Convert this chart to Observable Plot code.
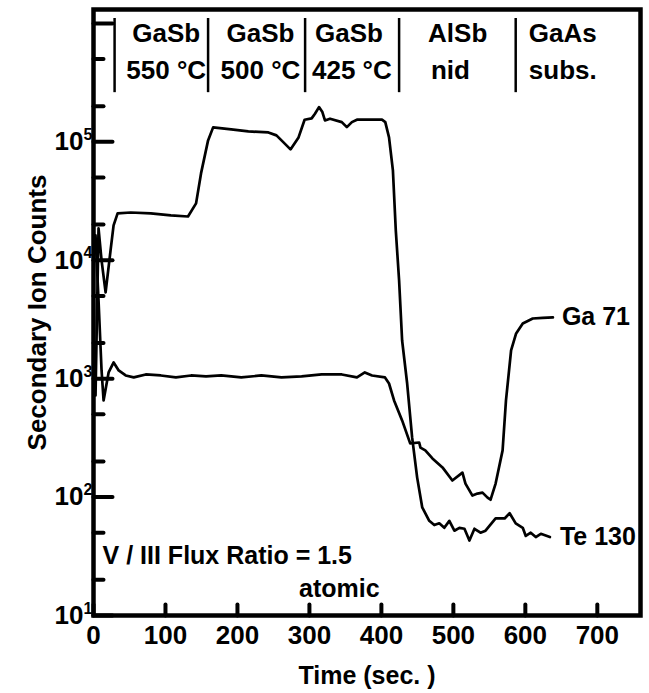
<!DOCTYPE html>
<html>
<head>
<meta charset="utf-8">
<script src="https://cdn.jsdelivr.net/npm/d3@7"></script>
<script src="https://cdn.jsdelivr.net/npm/@observablehq/plot@0.6"></script>
<style>
  html, body { margin: 0; padding: 0; background: #ffffff; }
  #chart { width: 649px; height: 693px; }
</style>
</head>
<body>
<div id="chart"></div>
<script>
// ---- Data ----
const teTime = [2.8, 7.0, 11.2, 16.8, 23.7, 27.9, 33.5, 51.7, 79.6, 107.5, 131.3, 142.5, 149.4, 159.2, 166.2, 191.3, 215.1, 243, 254.2, 261.2, 273.7, 284.9, 293.3, 303.1, 307.7, 313.3, 318, 321.6, 328.6, 345, 352, 359, 366, 400.8, 405.4, 410.6, 416, 420, 424.6, 428.8, 435.8, 442.7, 449.7, 456.7, 466.5, 473.5, 480.4, 487.4, 494.4, 501.4, 508.4, 515.4, 522.3, 529.3, 537.7, 544.7, 558.7, 571.2, 578.2, 586.6, 596.4, 600.6, 607.5, 614.5, 621.5, 634.1];
const teCounts = [721, 18600, 9960, 5350, 12100, 19700, 24900, 25300, 24900, 23900, 23400, 30200, 54100, 102800, 132400, 127300, 122400, 120000, 113300, 102800, 86300, 109000, 153700, 157700, 172700, 196400, 178200, 151600, 156700, 146700, 133100, 146700, 153700, 153700, 146700, 109000, 57300, 17850, 6750, 2100, 910, 319, 146, 82, 63, 58, 60, 55, 63, 52, 55, 54, 43, 54, 50, 52, 66, 66, 73, 60, 55, 47, 50, 46, 49, 46];

const gaTime = [2.8, 7.0, 11.2, 14, 21, 28, 35, 44.7, 55.9, 72.6, 93.6, 114.5, 135.5, 156.4, 177.4, 205.3, 233.2, 261.2, 289.1, 317, 345, 366, 377, 387, 405, 410.6, 417.6, 428.8, 440, 452.5, 454.3, 461, 470.9, 484.9, 498.6, 512.6, 516.8, 526.5, 533.5, 540.5, 547.5, 551.7, 558.7, 568.4, 573.1, 580.2, 587.2, 596.4, 610.3, 624, 638.3];
const gaCounts = [16200, 4575, 1173, 655, 1128, 1370, 1173, 1064, 1024, 1085, 1064, 1024, 1064, 1044, 1064, 1024, 1064, 1024, 1044, 1085, 1085, 1024, 1128, 1064, 1024, 910, 655, 444, 284, 289, 262, 248, 212, 178, 138, 161, 130, 103, 107, 109, 99, 95, 130, 248, 655, 1730, 2410, 2925, 3222, 3255, 3289];

const seriesNames = ["Ga 71", "Te 130"];

const layerBounds = [29.3, 159.2, 294, 424.6, 586.6];
const layerNames = ["GaSb", "GaSb", "GaSb", "AlSb", "GaAs"];
const layerInfo = ["550 °C", "500 °C", "425 °C", "nid", "subs."];
const layerNameX = [101, 232, 355, 506, 652];
const layerInfoX = [101, 232, 359, 496, 652];

const xTicks = [0, 100, 200, 300, 400, 500, 600, 700];
const yMajorTicks = [1e1, 1e2, 1e3, 1e4, 1e5, 1e6];
const yLabelTicks = [1e1, 1e2, 1e3, 1e4, 1e5];
const yMinorTicks = [20, 50, 200, 500, 2000, 5000, 2e4, 5e4, 2e5, 5e5];

const noteLine1 = "V / III Flux Ratio = 1.5";
const noteLine2 = "atomic";
const xLabel = "Time (sec. )";
const yLabel = "Secondary Ion Counts";

// ---- Build tables ----
const te = teTime.map((t, i) => ({t, v: teCounts[i]}));
const ga = gaTime.map((t, i) => ({t, v: gaCounts[i]}));
const teEnd = te[te.length - 1];
const gaEnd = ga[ga.length - 1];
const layers = layerBounds.map(b => ({b}));

const W = 649, H = 693, ML = 93, MR = 9, MT = 9, MB = 78;
const frameW = W - ML - MR, frameH = H - MT - MB;
const X_DOMAIN = [0, 760], Y_DOMAIN = [10, 1.31e6];

// tick lengths given in pixels, converted to scale units
const pxToX = px => X_DOMAIN[0] + (X_DOMAIN[1] - X_DOMAIN[0]) * px / frameW;
const pxToY = px => Y_DOMAIN[0] * Math.pow(Y_DOMAIN[1] / Y_DOMAIN[0], px / frameH);
const xTickTop = pxToY(11);
const yMajorEnd = pxToX(19);
const yMinorEnd = pxToX(10);
// each tick as a two-point segment (k groups the segment)
const tickSegs = [];
xTicks.forEach((x, k) => { tickSegs.push({k: "x" + k, x, y: Y_DOMAIN[0]}, {k: "x" + k, x, y: xTickTop}); });
yMajorTicks.forEach((y, k) => { tickSegs.push({k: "M" + k, x: X_DOMAIN[0], y}, {k: "M" + k, x: yMajorEnd, y}); });
yMinorTicks.forEach((y, k) => { tickSegs.push({k: "m" + k, x: X_DOMAIN[0], y}, {k: "m" + k, x: yMinorEnd, y}); });

const FONT = "'Liberation Sans', Arial, Helvetica, sans-serif";
const textBase = {fontWeight: "bold", fill: "black", fontSize: 26, lineAnchor: "middle"};

const chart = Plot.plot({
  width: W,
  height: H,
  marginLeft: ML,
  marginRight: MR,
  marginTop: MT,
  marginBottom: MB,
  style: {fontFamily: FONT, background: "white", color: "black", overflow: "visible"},
  x: {type: "linear", domain: X_DOMAIN, axis: null},
  y: {type: "log", domain: Y_DOMAIN, axis: null},
  marks: [
    // tick labels
    Plot.text(xTicks, {x: d => d, frameAnchor: "bottom", dy: 20, textAnchor: "middle", text: d => String(d), ...textBase}),
    Plot.text(yLabelTicks, {y: d => d, frameAnchor: "left", dx: -10, textAnchor: "end", text: () => "10", ...textBase}),
    Plot.text(yLabelTicks, {y: d => d, frameAnchor: "left", dx: -10, dy: -7, textAnchor: "start", text: d => String(Math.round(Math.log10(d))), fontWeight: "bold", fill: "black", fontSize: 16, lineAnchor: "middle"}),
    // axis titles
    Plot.text([xLabel], {frameAnchor: "bottom", dy: 60, textAnchor: "middle", text: d => d, ...textBase, fontSize: 25}),
    Plot.text([yLabel], {frameAnchor: "left", dx: -56, rotate: -90, textAnchor: "middle", text: d => d, ...textBase}),
    // layer separators and labels
    Plot.ruleX(layers, {x: "b", y1: 2.6e5, y2: 1.1e6, stroke: "black", strokeWidth: 2.5}),
    Plot.text(layerNames, {x: (d, i) => layerNameX[i], frameAnchor: "top", dy: 24, textAnchor: "middle", text: d => d, ...textBase}),
    Plot.text(layerInfo, {x: (d, i) => layerInfoX[i], frameAnchor: "top", dy: 61, textAnchor: "middle", text: d => d, ...textBase}),
    // curves
    Plot.line(ga, {x: "t", y: "v", stroke: "black", strokeWidth: 2.7, strokeLinejoin: "round", strokeLinecap: "round"}),
    Plot.line(te, {x: "t", y: "v", stroke: "black", strokeWidth: 2.7, strokeLinejoin: "round", strokeLinecap: "round"}),
    // series labels
    Plot.text([gaEnd], {x: "t", y: "v", dx: 9, textAnchor: "start", text: () => seriesNames[0], ...textBase, fontSize: 25}),
    Plot.text([teEnd], {x: "t", y: "v", dx: 10, textAnchor: "start", text: () => seriesNames[1], ...textBase, fontSize: 25}),
    // annotation
    Plot.text([noteLine1], {x: [12.6], y: [32], textAnchor: "start", text: d => d, ...textBase, fontSize: 25}),
    Plot.text([noteLine2], {x: [341.5], y: [16.9], textAnchor: "middle", text: d => d, ...textBase, fontSize: 25}),
    // frame
    Plot.frame({stroke: "black", strokeWidth: 4.5}),
    // axis ticks (pointing inward), drawn on top as short segments
    Plot.line(tickSegs, {x: "x", y: "y", z: "k", stroke: "black", strokeWidth: 4})
  ]
});

document.getElementById("chart").appendChild(chart);
</script>
</body>
</html>
